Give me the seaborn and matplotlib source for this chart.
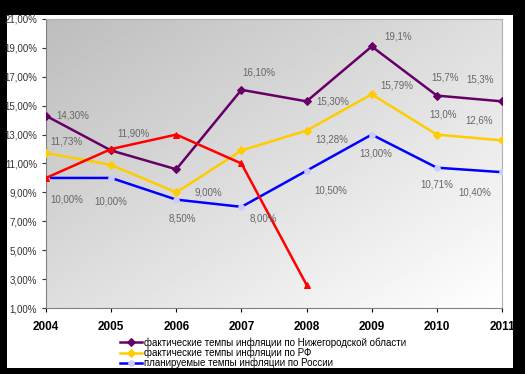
import numpy as np
import pandas as pd
import matplotlib
matplotlib.use("Agg")
import matplotlib.pyplot as plt
from matplotlib.patches import Rectangle
from matplotlib.ticker import FuncFormatter
import seaborn as sns

# Данные (годы и темпы инфляции, %)
years = [2004, 2005, 2006, 2007, 2008, 2009, 2010, 2011]
nn_region = [14.3, 11.9, 10.6, 16.1, 15.3, 19.1, 15.7, 15.3]
rf_fact = [11.73, 10.9, 9.0, 11.9, 13.28, 15.79, 13.0, 12.6]
rf_plan = [10.0, 10.0, 8.5, 8.0, 10.5, 13.0, 10.71, 10.4]
red_years = [2004, 2005, 2006, 2007, 2008]
red_vals = [10.0, 12.0, 13.0, 11.0, 2.6]

names = ["фактические темпы инфляции по Нижегородской области",
         "фактические темпы инфляции по РФ",
         "планируемые темпы инфляции по России"]

# подписи данных
nn_labels = ["14,30%", None, None, "16,10%", "15,30%", "19,1%", "15,7%", "15,3%"]
rf_labels = ["11,73%", None, "9,00%", None, "13,28%", "15,79%", "13,0%", "12,6%"]
plan_labels = ["10,00%", "10,00%", "8,50%", "8,00%", "10,50%", "13,00%", "10,71%", "10,40%"]
red_labels = [None, "11,90%", None, None, None]

# смещения подписей (пиксели) и выравнивание
nn_off = [(10, 0, "left"), None, None, (1, 17, "left"), (10, 0, "left"),
          (13, 10, "left"), (8, 18, "center"), (-22, 22, "center")]
rf_off = [(4, 11, "left"), None, (18, 0, "left"), None, (9, -9, "left"),
          (9, 9, "left"), (6, 20, "center"), (-23, 20, "center")]
plan_off = [(4, -22, "left"), (0, -24, "center"), (6, -19, "center"), (8, -12, "left"),
            (8, -20, "left"), (4, -19, "center"), (0, -17, "center"), (-27, -20, "center")]
red_off = [None, (6, 16, "left"), None, None, None]

plt.rcParams["font.family"] = ["Liberation Sans", "DejaVu Sans"]

fig = plt.figure(figsize=(5.25, 3.74), dpi=100, facecolor="black")
fig.patches.append(Rectangle((7 / 525, 1 - 368 / 374), 506 / 525, 353 / 374,
                             transform=fig.transFigure, facecolor="white",
                             edgecolor="none", zorder=-5))
ax = fig.add_axes([46 / 525, 1 - 308 / 374, 456 / 525, 289 / 374])
ax.set_zorder(1)

# градиентный фон области построения
gx, gy = np.meshgrid(np.linspace(0, 1, 200), np.linspace(0, 1, 200))
grad = (gx + gy) / 2
ax.imshow(grad, extent=[2004, 2011, 1, 21], origin="upper", aspect="auto",
          cmap="gray", vmin=-2.85, vmax=1.0, zorder=0)

df_nn = pd.DataFrame({"year": years, "value": nn_region})
df_rf = pd.DataFrame({"year": years, "value": rf_fact})
df_plan = pd.DataFrame({"year": years, "value": rf_plan})
df_red = pd.DataFrame({"year": red_years, "value": red_vals})

sns.lineplot(data=df_nn, x="year", y="value", ax=ax, color="#660066", lw=1.8,
             marker="D", markersize=4, markeredgecolor="#660066", label=names[0], zorder=3)
sns.lineplot(data=df_rf, x="year", y="value", ax=ax, color="#ffcc00", lw=1.8,
             marker="D", markersize=4, markeredgecolor="#ffcc00", label=names[1], zorder=3)
sns.lineplot(data=df_plan, x="year", y="value", ax=ax, color="#0000ff", lw=1.8,
             marker="o", markersize=4, markerfacecolor="#ccccff", markeredgecolor="#ccccff",
             label=names[2], zorder=3)
sns.lineplot(data=df_red, x="year", y="value", ax=ax, color="#ff0000", lw=1.8,
             marker="^", markersize=5, markeredgecolor="#ff0000", legend=False, zorder=4)


def put_labels(xs, ys, labels, offs):
    for x, y, t, o in zip(xs, ys, labels, offs):
        if t is None:
            continue
        ax.annotate(t, (x, y), xytext=(o[0], o[1]), textcoords="offset pixels",
                    ha=o[2], va="center", fontsize=7, color="#666666", zorder=5)


put_labels(years, nn_region, nn_labels, nn_off)
put_labels(years, rf_fact, rf_labels, rf_off)
put_labels(years, rf_plan, plan_labels, plan_off)
put_labels(red_years, red_vals, red_labels, red_off)

ax.set_xlim(2004, 2011)
ax.set_ylim(1, 21)
ax.set_xticks(years)
ax.set_yticks(np.arange(1, 22, 2))
ax.yaxis.set_major_formatter(FuncFormatter(lambda v, p: f"{v:.2f}%".replace(".", ",")))
ax.tick_params(axis="y", labelsize=7, colors="#333333", length=3)
ax.tick_params(axis="x", labelsize=8.5, length=3, pad=6)
for lab in ax.get_xticklabels():
    lab.set_fontweight("bold")
ax.set_xlabel("")
ax.set_ylabel("")
for s in ["left", "bottom"]:
    ax.spines[s].set_color("#808080")
for s in ["top", "right"]:
    ax.spines[s].set_color("#b0b0b0")

ax.legend(loc="upper left", bbox_to_anchor=(120 / 525, 1 - 337 / 374),
          bbox_transform=fig.transFigure, frameon=False, fontsize=7,
          labelspacing=0.0, handlelength=2.3, handletextpad=0.15, borderpad=0,
          borderaxespad=0)

fig.savefig("out.png", dpi=100, facecolor=fig.get_facecolor())
